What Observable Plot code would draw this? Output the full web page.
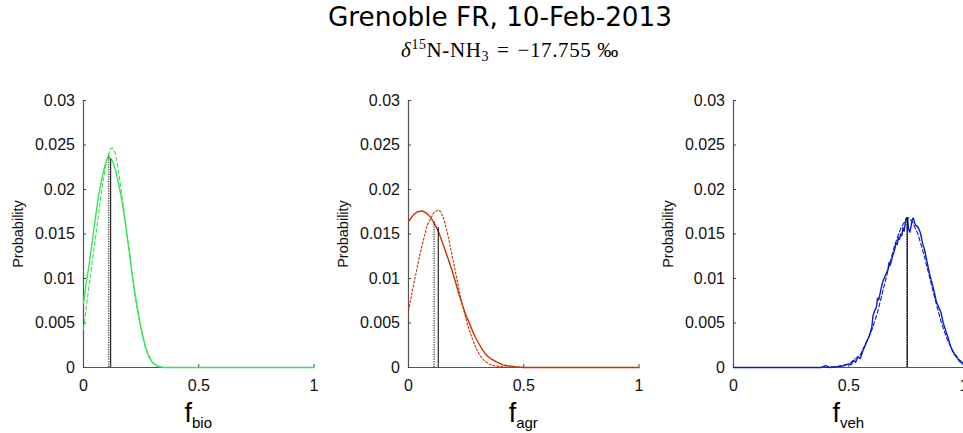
<!DOCTYPE html>
<html>
<head>
<meta charset="utf-8">
<script src="https://cdn.jsdelivr.net/npm/d3@7"></script>
<script src="https://cdn.jsdelivr.net/npm/@observablehq/plot@0.6"></script>
<style>
  html, body { margin: 0; padding: 0; background: #fff; overflow: hidden; }
  #wrap { position: relative; width: 963px; height: 433px; overflow: hidden; }
  .title { position: absolute; left: 0; width: 1000px; text-align: center; top: 2px;
           font-family: "DejaVu Sans", sans-serif; font-size: 26.3px; color: #000; }
  .subtitle { position: absolute; left: 0; width: 1020px; text-align: center; top: 37px;
           font-family: "Liberation Serif", serif; font-size: 21px; letter-spacing: 0.6px; color: #000; }
  .subtitle sup { font-size: 14px; vertical-align: 8px; }
  .subtitle sub { font-size: 14px; vertical-align: -4px; }
  .subtitle .op { margin: 0 8px; }
  .subtitle .pm { margin-left: 6px; }
  .panel { position: absolute; top: 90px; width: 340px; }
  .panel svg { max-width: none !important; }
  .ylab { position: absolute; font-family: "Liberation Sans", sans-serif; font-size: 14.5px; color: #111;
          transform: translate(-50%, -50%) rotate(-90deg); white-space: nowrap; }
  .xlab { position: absolute; font-family: "Liberation Sans", sans-serif; font-size: 27px; color: #000;
          transform: translateX(-50%); white-space: nowrap; line-height: 1; }
  .xlab sub { font-size: 15px; vertical-align: -6px; }
</style>
</head>
<body>
<div id="wrap">
  <div class="title">Grenoble FR, 10-Feb-2013</div>
  <div class="subtitle"><i>δ</i><sup>15</sup>N-NH<sub>3</sub><span class="op">=</span>−17.755<span class="pm">‰</span></div>
</div>
<script>
// ---- data ----
const xTicks = [0, 0.5, 1];
const yTicks = [0, 0.005, 0.01, 0.015, 0.02, 0.025, 0.03];
const yTickLabels = ["0", "0.005", "0.01", "0.015", "0.02", "0.025", "0.03"];
const sources = ["bio", "agr", "veh"];
const colors = ["#3de25a", "#c93200", "#0a1cc4"];

// bio
const bioSolidX = [0,0.01,0.023,0.04,0.052,0.065,0.081,0.095,0.107,0.115,0.124,0.14,0.153,0.168,0.182,0.197,0.211,0.225,0.24,0.255,0.269,0.283,0.298,0.312,0.327,0.345,0.36,0.4,0.5,0.6,0.7,0.8,0.9,1.0];
const bioSolidY = [0.0072,0.0092,0.0113,0.0145,0.0169,0.0192,0.0214,0.0229,0.0237,0.0235,0.0233,0.0221,0.0206,0.0185,0.0161,0.0133,0.0105,0.0080,0.0057,0.0038,0.0023,0.0013,0.0006,0.0003,0.0001,0.00003,0,0,0,0,0,0,0,0];
const bioFitX = [0,0.023,0.052,0.081,0.1,0.117,0.125,0.139,0.153,0.168,0.182,0.197,0.211,0.225,0.24,0.254,0.268,0.283,0.298,0.312,0.33,0.35,0.4,1.0];
const bioFitY = [0.0043,0.009,0.0146,0.0203,0.0232,0.0246,0.0247,0.024,0.0219,0.0191,0.0163,0.0135,0.0106,0.0079,0.0056,0.0037,0.0023,0.0012,0.0006,0.0002,0.0001,0,0,0];
const bioMean = [0.118, 0.0234];
const bioMode = [0.110, 0.0238];

// agr
const agrSolidX = [0,0.023,0.04,0.059,0.075,0.088,0.1,0.11,0.12,0.131,0.145,0.16,0.175,0.189,0.204,0.218,0.233,0.247,0.262,0.276,0.29,0.305,0.323,0.341,0.362,0.384,0.41,0.428,0.46,0.5,0.6,0.8,1.0];
const agrSolidY = [0.0164,0.0172,0.0175,0.0176,0.0174,0.0171,0.0167,0.0163,0.0158,0.0152,0.0142,0.0131,0.0120,0.0109,0.0096,0.0083,0.0071,0.0060,0.0051,0.0042,0.0034,0.0027,0.0019,0.0013,0.0009,0.0006,0.0003,0.0002,0.0001,0,0,0,0];
const agrFitX = [0,0.023,0.052,0.081,0.11,0.129,0.14,0.153,0.168,0.182,0.197,0.211,0.225,0.24,0.254,0.269,0.283,0.298,0.312,0.327,0.35,0.37,0.4,0.45,0.5,1.0];
const agrFitY = [0.0064,0.0094,0.013,0.016,0.0174,0.0177,0.0175,0.0167,0.0152,0.0135,0.0116,0.0098,0.008,0.0064,0.005,0.0038,0.0028,0.0019,0.0013,0.0008,0.0004,0.0002,0.0001,0,0,0];
const agrMean = [0.129, 0.0157];
const agrMode = [0.111, 0.0164];

// veh
const vehSolidX = [0,0.38,0.4,0.41,0.42,0.45,0.48,0.5,0.51,0.52,0.53,0.54,0.55,0.56,0.57,0.58,0.59,0.6,0.605,0.61,0.62,0.625,0.63,0.64,0.645,0.65,0.66,0.67,0.675,0.68,0.69,0.7,0.705,0.71,0.715,0.72,0.725,0.73,0.735,0.74,0.745,0.75,0.755,0.76,0.765,0.77,0.775,0.78,0.785,0.79,0.8,0.81,0.82,0.83,0.84,0.85,0.86,0.87,0.88,0.89,0.9,0.91,0.92,0.93,0.94,0.95,0.96,0.97,0.98,0.99,1.0];
const vehSolidY = [0,0,0.0002,0.0001,0,0.0001,0.0002,0.0004,0.0003,0.0008,0.0006,0.0012,0.0010,0.0018,0.0024,0.003,0.0036,0.0045,0.0058,0.0062,0.0068,0.0078,0.0076,0.0088,0.0094,0.0098,0.0104,0.0110,0.0118,0.0115,0.0125,0.0133,0.0140,0.0138,0.0146,0.0144,0.0150,0.0148,0.0157,0.0153,0.0162,0.0168,0.0168,0.0155,0.0152,0.0158,0.0166,0.0168,0.0163,0.0160,0.0158,0.0152,0.0140,0.0131,0.0118,0.0106,0.0096,0.0086,0.0074,0.0068,0.0062,0.0050,0.0042,0.0034,0.0025,0.0019,0.0014,0.0011,0.0007,0.0005,0.0003];
const vehFitX = [0,0.4,0.45,0.5,0.55,0.6,0.625,0.65,0.675,0.7,0.725,0.75,0.76,0.775,0.8,0.825,0.85,0.875,0.9,0.925,0.95,0.975,1.0];
const vehFitY = [0,0,0.0001,0.0004,0.0014,0.0042,0.0062,0.0088,0.0114,0.0138,0.0156,0.0167,0.0168,0.0164,0.0150,0.0128,0.0102,0.0076,0.0052,0.0033,0.0019,0.001,0.0004];
const vehMean = [0.754, 0.0168];
const vehMode = [0.752, 0.0168];

// ---- build ----
const panels = [
  {src: "bio", sx: bioSolidX, sy: bioSolidY, fx: bioFitX, fy: bioFitY, mean: bioMean, mode: bioMode, dash: "4,2.5"},
  {src: "agr", sx: agrSolidX, sy: agrSolidY, fx: agrFitX, fy: agrFitY, mean: agrMean, mode: agrMode, dash: "2,2"},
  {src: "veh", sx: vehSolidX, sy: vehSolidY, fx: vehFitX, fy: vehFitY, mean: vehMean, mode: vehMode, dash: "4,2.5"}
];
const lefts = [0, 325, 650];
const wrap = document.getElementById("wrap");
const mL = 83, mT = 10, plotW = 230.5, plotH = 267;

panels.forEach((p, i) => {
  const col = colors[i];
  const solid = p.sx.map((x, k) => ({x, y: p.sy[k]}));
  const fit = p.fx.map((x, k) => ({x, y: p.fy[k]}));
  const chart = Plot.plot({
    width: mL + plotW + 16.5,
    height: mT + plotH + 40,
    marginLeft: mL, marginRight: 16.5, marginTop: mT, marginBottom: 40,
    style: {fontFamily: "Liberation Sans, sans-serif", fontSize: "16px", background: "transparent", overflow: "visible", color: "#111", maxWidth: "none"},
    x: {domain: [0, 1]},
    y: {domain: [0, 0.03]},
    marks: [
      Plot.ruleY([0], {stroke: "#555", strokeWidth: 1.2}),
      Plot.ruleX([0], {stroke: "#555", strokeWidth: 1.2}),
      Plot.axisX({ticks: xTicks, tickSize: -3, tickPadding: 15, stroke: "#444", tickFormat: d => String(d), label: null}),
      Plot.axisY({ticks: yTicks, tickSize: -3, tickPadding: 11.5, stroke: "#444", tickFormat: d => yTickLabels[yTicks.indexOf(d)], label: null}),
      Plot.line(fit, {x: "x", y: "y", stroke: col, strokeWidth: 1.1, strokeDasharray: p.dash}),
      Plot.line(solid, {x: "x", y: "y", stroke: col, strokeWidth: 1.4}),
      Plot.ruleX([p.mode], {x: d => d[0], y1: 0, y2: d => d[1], stroke: "#000", strokeWidth: 1, strokeDasharray: "1.2,1.2"}),
      Plot.ruleX([p.mean], {x: d => d[0], y1: 0, y2: d => d[1], stroke: "#000", strokeWidth: 1})
    ]
  });
  const div = document.createElement("div");
  div.className = "panel";
  div.style.left = lefts[i] + "px";
  div.appendChild(chart);
  wrap.appendChild(div);

  const yl = document.createElement("div");
  yl.className = "ylab";
  yl.textContent = "Probability";
  yl.style.left = (lefts[i] + 18) + "px";
  yl.style.top = (90 + mT + plotH / 2) + "px";
  wrap.appendChild(yl);

  const xl = document.createElement("div");
  xl.className = "xlab";
  xl.innerHTML = "f<sub>" + p.src + "</sub>";
  xl.style.left = (lefts[i] + mL + plotW / 2) + "px";
  xl.style.top = "400px";
  wrap.appendChild(xl);
});
</script>
</body>
</html>
